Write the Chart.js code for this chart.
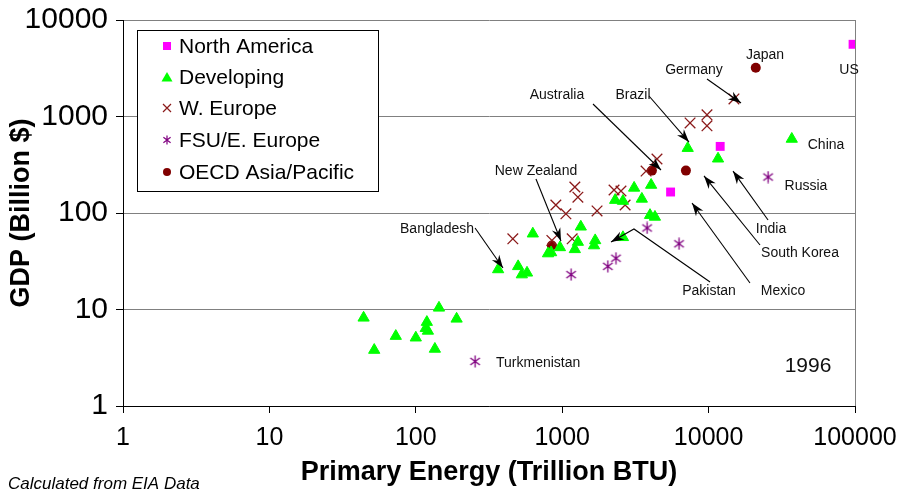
<!DOCTYPE html>
<html>
<head>
<meta charset="utf-8">
<script src="https://cdn.jsdelivr.net/npm/chart.js@4/dist/chart.umd.min.js"></script>
<style>
  html, body { margin: 0; padding: 0; background: #fff; }
  canvas { display: block; }
</style>
</head>
<body>
<canvas id="c" width="903" height="493"></canvas>
<script>
// Energy use vs. GDP by region, 1996 (log-log)
const xTickValues = [1, 10, 100, 1000, 10000, 100000];
const xTickLabels = ['1', '10', '100', '1000', '10000', '100000'];
const yTickValues = [1, 10, 100, 1000, 10000];
const yTickLabels = ['1', '10', '100', '1000', '10000'];

const naEnergy = [97000, 12000, 5500];
const naGdp    = [5600, 490, 165];

const devEnergy = [44, 52, 73, 100, 119, 117, 121, 135, 144, 190,
                   365, 500, 530, 575, 630, 800, 840, 965, 1220, 1280,
                   1340, 1680, 1650, 2600, 2300, 2600, 3100, 3500, 4050, 3980,
                   4300, 7200, 11600, 37000];
const devGdp    = [8.2, 3.8, 5.3, 5.1, 7.4, 6.4, 6.0, 3.9, 10.4, 8.0,
                   26, 28, 23, 24, 61, 38, 39, 44, 42, 50,
                   72, 52, 46, 56, 136, 133, 182, 140, 195, 95,
                   91, 470, 365, 585];

const weEnergy = [460, 850, 1170, 905, 1060, 1220, 1280, 1730, 2260, 2520,
                  2690, 3740, 4440, 7470, 9750, 9750, 14900];
const weGdp    = [54, 52, 54, 121, 98, 186, 146, 105, 173, 169,
                  121, 272, 363, 857, 1040, 800, 1520];

const fsuEnergy = [254, 1150, 2050, 2330, 3800, 6280, 25500];
const fsuGdp    = [2.9, 23, 28, 34, 70, 48, 236];

const oecdEnergy = [21000, 7000, 4100, 850];
const oecdGdp    = [3200, 275, 275, 46];

const seriesNames = ['North America', 'Developing', 'W. Europe', 'FSU/E. Europe', 'OECD Asia/Pacific'];

// Country call-outs, positioned in data space (energy, GDP)
const notes = [
  { text: 'Japan',        at: [24270, 4340] },
  { text: 'US',           at: [91000, 3030] },
  { text: 'Germany',      at: [7945, 3030],  arrow: [[9750, 2450], [16650, 1380]] },
  { text: 'Australia',    at: [921, 1670],   arrow: [[1623, 1348], [4730, 279]] },
  { text: 'Brazil',       at: [3047, 1670],  arrow: [[3917, 1631], [7345, 544]] },
  { text: 'China',        at: [63400, 507] },
  { text: 'Russia',       at: [46260, 190] },
  { text: 'India',        at: [26690, 68.3], arrow: [[25470, 84.6], [14680, 272]] },
  { text: 'South Korea',  at: [42100, 38.5], arrow: [[22440, 46.6], [9305, 242]] },
  { text: 'Mexico',       at: [32230, 15.5], arrow: [[19170, 18.8], [7705, 127]] },
  { text: 'Pakistan',     at: [10070, 15.5], arrow: [[10230, 19.3], [3092, 68.3], [2155, 50.1]] },
  { text: 'New Zealand',  at: [662, 272],    arrow: [[662, 225], [981, 51.3]] },
  { text: 'Bangladesh',   at: [139.6, 68.3], arrow: [[254, 69.9], [394, 26.9]] },
  { text: 'Turkmenistan', at: [353, 2.79], align: 'left' },
  { text: '1996',         at: [47760, 2.6], size: 21 }
];

const FONT = '"Liberation Sans", Arial, Helvetica, sans-serif';
const C_NA = '#ff00ff', C_DEV = '#00ff00', C_WE = '#8b1a1a', C_FSU = '#800080', C_OECD = '#800000';

function toPoints(xs, ys) { return xs.map((v, i) => ({ x: v, y: ys[i] })); }

// six-armed asterisk marker (vertical stroke + X)
function asterisk(size, color, lw) {
  const c = document.createElement('canvas');
  c.width = c.height = size;
  const g = c.getContext('2d');
  g.strokeStyle = color; g.lineWidth = lw; g.lineCap = 'butt';
  const m = size / 2, r = size / 2 - 0.5;
  g.beginPath();
  g.moveTo(m, m - r); g.lineTo(m, m + r);
  const dx = r * 0.8, dy = r * 0.6;
  g.moveTo(m - dx, m - dy); g.lineTo(m + dx, m + dy);
  g.moveTo(m + dx, m - dy); g.lineTo(m - dx, m + dy);
  g.stroke();
  return c;
}
const starBig = asterisk(13, C_FSU, 1.3);
const starSmall = asterisk(10, C_FSU, 1.2);

function drawArrow(ctx, pts) {
  ctx.beginPath();
  ctx.moveTo(pts[0][0], pts[0][1]);
  for (let i = 1; i < pts.length; i++) ctx.lineTo(pts[i][0], pts[i][1]);
  ctx.stroke();
  const [tx, ty] = pts[pts.length - 1];
  const [px, py] = pts[pts.length - 2];
  const ang = Math.atan2(ty - py, tx - px);
  const L = 13, W = 4.5, N = 9;
  const cos = Math.cos(ang), sin = Math.sin(ang);
  const pt = (a, b) => [tx + a * cos - b * sin, ty + a * sin + b * cos];
  const p1 = pt(-L, -W), p2 = pt(-N, 0), p3 = pt(-L, W);
  ctx.beginPath();
  ctx.moveTo(tx, ty);
  ctx.lineTo(p1[0], p1[1]);
  ctx.lineTo(p2[0], p2[1]);
  ctx.lineTo(p3[0], p3[1]);
  ctx.closePath();
  ctx.fill();
}

function legendMarker(ctx, i, x, y) {
  ctx.save();
  if (i === 0) {
    ctx.fillStyle = C_NA; ctx.fillRect(x - 4, y - 4, 8, 8);
  } else if (i === 1) {
    ctx.fillStyle = C_DEV; ctx.beginPath();
    ctx.moveTo(x, y - 5); ctx.lineTo(x + 5.5, y + 4.5); ctx.lineTo(x - 5.5, y + 4.5); ctx.closePath(); ctx.fill();
  } else if (i === 2) {
    ctx.strokeStyle = C_WE; ctx.lineWidth = 1.2; ctx.beginPath();
    ctx.moveTo(x - 4, y - 4); ctx.lineTo(x + 4, y + 4); ctx.moveTo(x + 4, y - 4); ctx.lineTo(x - 4, y + 4); ctx.stroke();
  } else if (i === 3) {
    ctx.drawImage(starSmall, x - starSmall.width / 2, y - starSmall.height / 2);
  } else {
    ctx.fillStyle = C_OECD; ctx.beginPath(); ctx.arc(x, y, 4, 0, Math.PI * 2); ctx.fill();
  }
  ctx.restore();
}

const decor = {
  id: 'decor',
  afterDatasetsDraw(chart) {
    const { ctx, chartArea: a, scales: { x, y } } = chart;
    ctx.save();
    // right frame edge
    ctx.strokeStyle = '#808080'; ctx.lineWidth = 1;
    ctx.beginPath(); ctx.moveTo(Math.round(a.right) + 0.5, a.top); ctx.lineTo(Math.round(a.right) + 0.5, a.bottom); ctx.stroke();

    // call-outs
    ctx.strokeStyle = '#000'; ctx.fillStyle = '#000'; ctx.lineWidth = 1.1;
    for (const n of notes) {
      if (n.arrow) {
        const pts = n.arrow.map(p => [x.getPixelForValue(p[0]), y.getPixelForValue(p[1])]);
        drawArrow(ctx, pts);
      }
      ctx.font = (n.size || 14) + 'px ' + FONT;
      ctx.textAlign = n.align || 'center';
      ctx.textBaseline = 'middle';
      ctx.fillStyle = '#111';
      ctx.fillText(n.text, x.getPixelForValue(n.at[0]), y.getPixelForValue(n.at[1]));
      ctx.fillStyle = '#000';
    }

    // legend box
    const bx = 137.5, by = 30.5, bw = 241, bh = 161;
    ctx.fillStyle = '#fff'; ctx.fillRect(bx, by, bw, bh);
    ctx.strokeStyle = '#000'; ctx.lineWidth = 1; ctx.strokeRect(bx, by, bw, bh);
    ctx.font = '21px ' + FONT; ctx.textAlign = 'left'; ctx.textBaseline = 'middle'; ctx.fillStyle = '#000';
    const rows = [46, 77, 108, 140, 172];
    seriesNames.forEach((name, i) => {
      legendMarker(ctx, i, 167, rows[i]);
      ctx.fillStyle = '#000';
      ctx.fillText(name, 179, rows[i] + 1);
    });
    ctx.restore();
  },
  afterDraw(chart) {
    const { ctx, chartArea: a } = chart;
    ctx.save();
    ctx.fillStyle = '#000';
    ctx.textAlign = 'center'; ctx.textBaseline = 'middle';
    ctx.font = 'bold 27px ' + FONT;
    ctx.fillText('Primary Energy (Trillion BTU)', (a.left + a.right) / 2, 473);
    ctx.translate(22, (a.top + a.bottom) / 2);
    ctx.rotate(-Math.PI / 2);
    ctx.fillText('GDP (Billion $)', 0, 0);
    ctx.restore();
    ctx.save();
    ctx.fillStyle = '#000';
    ctx.font = 'italic 17px ' + FONT;
    ctx.textAlign = 'left'; ctx.textBaseline = 'middle';
    ctx.fillText('Calculated from EIA Data', 8, 484);
    ctx.restore();
  }
};

new Chart(document.getElementById('c'), {
  type: 'scatter',
  data: {
    datasets: [
      { label: seriesNames[0], data: toPoints(naEnergy, naGdp), pointStyle: 'rect',
        pointRadius: 6.3, backgroundColor: C_NA, borderColor: C_NA, borderWidth: 0 },
      { label: seriesNames[1], data: toPoints(devEnergy, devGdp), pointStyle: 'triangle',
        pointRadius: 6.5, backgroundColor: C_DEV, borderColor: C_DEV, borderWidth: 1 },
      { label: seriesNames[2], data: toPoints(weEnergy, weGdp), pointStyle: 'crossRot',
        pointRadius: 7.5, backgroundColor: C_WE, borderColor: C_WE, borderWidth: 1.3 },
      { label: seriesNames[3], data: toPoints(fsuEnergy, fsuGdp), pointStyle: starBig,
        pointRadius: 6, backgroundColor: C_FSU, borderColor: C_FSU },
      { label: seriesNames[4], data: toPoints(oecdEnergy, oecdGdp), pointStyle: 'circle',
        pointRadius: 5, backgroundColor: C_OECD, borderColor: C_OECD, borderWidth: 0 }
    ]
  },
  options: {
    responsive: false,
    animation: false,
    layout: { padding: { left: 0, right: 48, top: 20, bottom: 0 } },
    plugins: { legend: { display: false }, tooltip: { enabled: false } },
    scales: {
      x: {
        type: 'logarithmic', min: 1, max: 100000,
        afterBuildTicks: s => { s.ticks = xTickValues.map(v => ({ value: v })); },
        afterFit: s => { s.height = 87; s.paddingLeft = 0; s.paddingRight = 0; },
        ticks: {
          autoSkip: false, maxRotation: 0, padding: 10, color: '#000',
          font: { family: FONT, size: 25 },
          callback: (v) => xTickLabels[xTickValues.indexOf(v)] ?? ''
        },
        grid: { drawOnChartArea: false, drawTicks: true, tickLength: 7, tickColor: '#000' },
        border: { color: '#000', width: 1 }
      },
      y: {
        type: 'logarithmic', min: 1, max: 10000,
        afterBuildTicks: s => { s.ticks = yTickValues.map(v => ({ value: v })); },
        afterFit: s => { s.width = 123; s.paddingTop = 0; s.paddingBottom = 0; },
        ticks: {
          autoSkip: false, padding: 8, color: '#000',
          font: { family: FONT, size: 30 },
          callback: (v) => yTickLabels[yTickValues.indexOf(v)] ?? ''
        },
        grid: { color: '#808080', lineWidth: 1, drawTicks: true, tickLength: 7, tickColor: '#000' },
        border: { color: '#000', width: 1 }
      }
    }
  },
  plugins: [decor]
});
</script>
</body>
</html>
